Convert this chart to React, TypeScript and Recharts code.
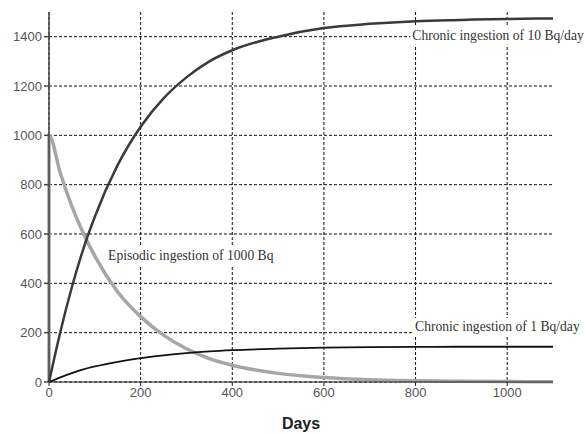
import { LineChart, Line, XAxis, YAxis, CartesianGrid, ReferenceDot } from "recharts";

// days sampled along the curves
const days = [0, 25, 50, 75, 100, 150, 200, 250, 300, 350, 400, 500, 600, 700, 800, 900, 1000, 1100];

// body activity (Bq)
const chronic10 = [0, 205, 385, 540, 670, 880, 1035, 1150, 1235, 1300, 1345, 1400, 1435, 1452, 1463, 1468, 1472, 1474];
const chronic1 = [0, 19, 36, 51, 63, 82, 97, 108, 117, 124, 129, 135, 139, 141, 142, 143, 143, 143];
const episodic = [1000, 845, 712, 603, 510, 365, 265, 190, 135, 95, 68, 35, 18, 9, 5, 3, 2, 1];

const xTicks = [0, 200, 400, 600, 800, 1000];
const yTicks = [0, 200, 400, 600, 800, 1000, 1200, 1400];

const chronic10Data = days.map((d, i) => ({ day: d, value: chronic10[i] }));
const chronic1Data = days.map((d, i) => ({ day: d, value: chronic1[i] }));
// the intake step at t=0 shows as a vertical line next to the axis
const episodicData = [{ day: 0, value: 0 }, ...days.map((d, i) => ({ day: d, value: episodic[i] }))];

const annotations = [
  { day: 793, value: 1404, text: "Chronic ingestion of 10 Bq/day", width: 176 },
  { day: 799, value: 223, text: "Chronic ingestion of 1 Bq/day", width: 174 },
  { day: 129, value: 511, text: "Episodic ingestion of 1000 Bq", width: 176 },
];

const tickStyle = { fill: "#555", fontSize: 13, fontFamily: "Arial, 'Liberation Sans', sans-serif" };

function NoteLabel(props: any) {
  const { viewBox, text, width } = props;
  const x = viewBox?.x ?? 0;
  const y = viewBox?.y ?? 0;
  return (
    <g>
      <rect x={x - 2} y={y - 9} width={width} height={18} fill="#fff" />
      <text
        x={x}
        y={y + 4}
        fill="#333"
        fontSize={13.6}
        fontFamily="'Liberation Serif', 'Times New Roman', serif"
      >
        {text}
      </text>
    </g>
  );
}

export default function App() {
  return (
    <div style={{ position: "absolute", left: 0, top: 0, background: "#fff" }}>
      <LineChart width={588} height={434} margin={{ top: 12, right: 35, bottom: 22, left: 4 }}>
        <CartesianGrid
          stroke="#111"
          strokeDasharray="3 2"
          strokeWidth={1}
          horizontalValues={yTicks}
          verticalValues={xTicks}
        />
        <XAxis
          dataKey="day"
          type="number"
          domain={[0, 1100]}
          ticks={xTicks}
          allowDuplicatedCategory={false}
          tick={tickStyle}
          tickSize={4}
          stroke="#222"
          height={30}
          label={{
            value: "Days",
            position: "insideBottom",
            offset: -17,
            style: { fill: "#222", fontSize: 16, fontWeight: "bold", fontFamily: "Arial, 'Liberation Sans', sans-serif" },
          }}
        />
        <YAxis
          type="number"
          domain={[0, 1500]}
          ticks={yTicks}
          tick={tickStyle}
          tickSize={5}
          stroke="#444"
          strokeWidth={1.5}
          width={45}
        />
        <Line
          data={episodicData}
          dataKey="value"
          type="monotone"
          stroke="#a6a6a6"
          strokeWidth={3.5}
          dot={false}
          isAnimationActive={false}
        />
        <Line
          data={chronic10Data}
          dataKey="value"
          type="monotone"
          stroke="#3a3a3a"
          strokeWidth={2.5}
          dot={false}
          isAnimationActive={false}
        />
        <Line
          data={chronic1Data}
          dataKey="value"
          type="monotone"
          stroke="#111"
          strokeWidth={1.8}
          dot={false}
          isAnimationActive={false}
        />
        {annotations.map((a) => (
          <ReferenceDot
            key={a.text}
            x={a.day}
            y={a.value}
            r={0}
            ifOverflow="visible"
            label={<NoteLabel text={a.text} width={a.width} />}
          />
        ))}
      </LineChart>
    </div>
  );
}
